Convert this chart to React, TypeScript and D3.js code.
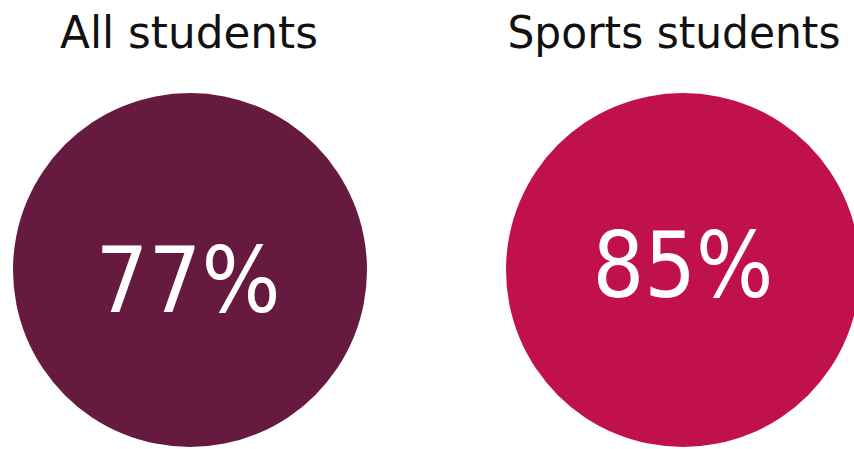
import React from "react";
import * as d3 from "d3";

const categories: string[] = ["All students", "Sports students"];
const values: number[] = [77, 85];
const colors: string[] = ["#661a40", "#c0114e"];

const W = 854;
const H = 449;

export default function App() {
  const x = d3.scalePoint<string>().domain(categories).range([190, 683]);
  const r = 177;
  const cy = 270;
  const fmt = (v: number) => d3.format(".0%")(v / 100);
  // small layout nudges
  const titleDx = [-1, -9];
  const titleW = [258, 333];
  const labelY = [312, 297];
  const labelW = [185, 181];
  const labelDx = [-2, 0];

  return (
    <svg
      width={W}
      height={H}
      style={{ position: "absolute", left: 0, top: 0, background: "#fff" }}
    >
      {categories.map((c, i) => {
        const cx = x(c) as number;
        return (
          <g key={c}>
            <circle cx={cx} cy={cy} r={r} fill={colors[i]} />
            <text
              x={cx + titleDx[i]}
              y={48}
              textAnchor="middle"
              fontFamily="DejaVu Sans, Verdana, sans-serif"
              fontSize={44}
              fill="#111"
              textLength={titleW[i]}
              lengthAdjust="spacingAndGlyphs"
            >
              {c}
            </text>
            <text
              x={cx + labelDx[i]}
              y={labelY[i]}
              textAnchor="middle"
              fontFamily="DejaVu Sans, Verdana, sans-serif"
              fontSize={91}
              fill="#fff"
              textLength={labelW[i]}
              lengthAdjust="spacingAndGlyphs"
            >
              {fmt(values[i])}
            </text>
          </g>
        );
      })}
    </svg>
  );
}
